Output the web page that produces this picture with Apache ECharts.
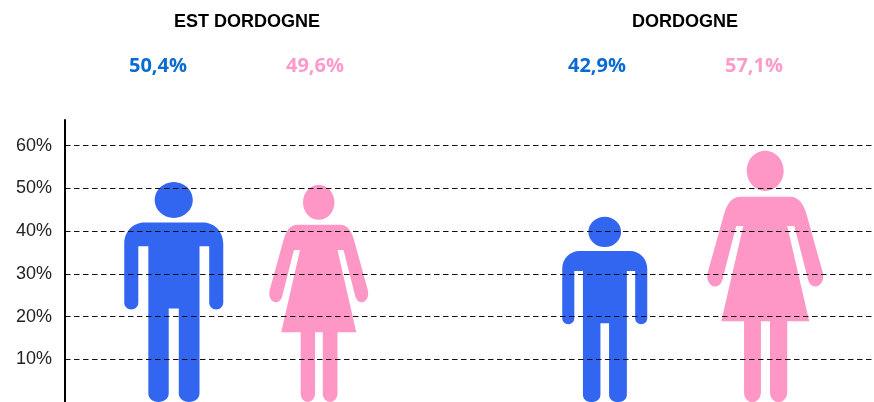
<!DOCTYPE html>
<html>
<head>
<meta charset="utf-8">
<style>html,body{margin:0;padding:0;background:#fff}#c{width:874px;height:402px}</style>
<script src="https://cdn.jsdelivr.net/npm/echarts@6/dist/echarts.min.js"></script>
</head>
<body>
<div id="c"></div>
<script>
var categories = ['EST DORDOGNE', 'DORDOGNE'];
var hommes = [50.4, 42.9];
var femmes = [49.6, 57.1];
var tickValues = [10, 20, 30, 40, 50, 60];
var hommeLabels = ['50,4%', '42,9%'];
var femmeLabels = ['49,6%', '57,1%'];

var BLUE = '#3366f0', PINK = '#ff97c6';
var manPath = 'path://M520 215C552 215 577 240 577 269C577 298 552 323 520 323C488 323 463 298 463 269C463 240 488 215 520 215Z' +
  'M432 337L608 337C642 337 668 365 668 400L668 577C668 590 658 598 647 598C636 598 626 590 626 577L626 408L597 408L597 850C597 866 584 876 566 876C548 876 535 866 535 850L535 595L505 595L505 850C505 866 492 876 474 876C456 876 444 866 444 850L444 408L414 408L414 577C414 590 404 598 393 598C382 598 372 590 372 577L372 400C372 365 398 337 432 337Z';
var womanPath = 'path://M956 228C982 228 1003 251 1003 280C1003 309 982 332 956 332C930 332 909 309 909 280C909 251 930 228 956 228Z' +
  'M892 347L1020 347C1042 347 1054 368 1060 388L1102 540C1108 560 1098 578 1084 578C1074 578 1068 570 1065 560L1030 422L1012 422L1068 668L1012 668L1012 850C1012 866 1002 876 990 876C978 876 968 866 968 850L968 668L945 668L945 850C945 866 935 876 923 876C911 876 902 866 902 850L902 668L844 668L900 422L882 422L847 560C844 570 838 578 828 578C814 578 804 560 810 540L852 388C858 368 870 347 892 347Z';

// figure styling per category: pixel width, height relative to the bar, offset from the band centre
var manStyle = [{w: 99, h: '102.2%', dx: -93.5}, {w: 85, h: '101%', dx: -67}];
var womanStyle = [{w: 99, h: '102.4%', dx: 51.5}, {w: 116, h: '103%', dx: 93.5}];

function items(values, style) {
  return values.map(function (v, i) {
    return {value: v, symbolSize: [style[i].w, style[i].h], symbolOffset: [style[i].dx, 0]};
  });
}
function heading(text, cx) {
  return {text: text, left: cx, top: 13, textAlign: 'center', padding: 0,
    textStyle: {fontFamily: 'Liberation Sans', fontWeight: 'bold', fontSize: 18, color: '#000', lineHeight: 18}};
}
function pct(text, cx, color) {
  return {text: text, left: cx, top: 54, textAlign: 'center', padding: 0,
    textStyle: {fontFamily: 'Open Sans', fontWeight: 'bold', fontSize: 20, color: color, lineHeight: 24}};
}

var chart = echarts.init(document.getElementById('c'), null, {renderer: 'canvas'});
chart.setOption({
  animation: false,
  backgroundColor: '#fff',
  title: [
    heading(categories[0], 247), heading(categories[1], 685),
    pct(hommeLabels[0], 158, '#0a6bd0'), pct(femmeLabels[0], 315, '#ff9acb'),
    pct(hommeLabels[1], 597, '#0a6bd0'), pct(femmeLabels[1], 754, '#ff9acb')
  ],
  grid: {left: 65, right: 0, top: 120, bottom: 0},
  xAxis: {type: 'category', data: categories, show: false},
  yAxis: {
    type: 'value', min: 0, max: 66, interval: 10, z: 5,
    axisLine: {show: true, lineStyle: {color: '#000', width: 2}},
    axisTick: {show: false, customValues: tickValues},
    axisLabel: {customValues: tickValues, margin: 13, fontFamily: 'Liberation Sans', fontSize: 18, color: '#222',
      formatter: function (v) { return v + '%'; }},
    splitLine: {show: true, showMinLine: true, showMaxLine: true, lineStyle: {color: '#111', width: 1, type: [5.5, 3.5]}}
  },
  series: [
    {name: 'Hommes', type: 'pictorialBar', symbol: manPath, symbolPosition: 'start', barGap: '-100%', z: 2,
      itemStyle: {color: BLUE}, data: items(hommes, manStyle)},
    {name: 'Femmes', type: 'pictorialBar', symbol: womanPath, symbolPosition: 'start', barGap: '-100%', z: 2,
      itemStyle: {color: PINK}, data: items(femmes, womanStyle)}
  ]
});
</script>
</body>
</html>
